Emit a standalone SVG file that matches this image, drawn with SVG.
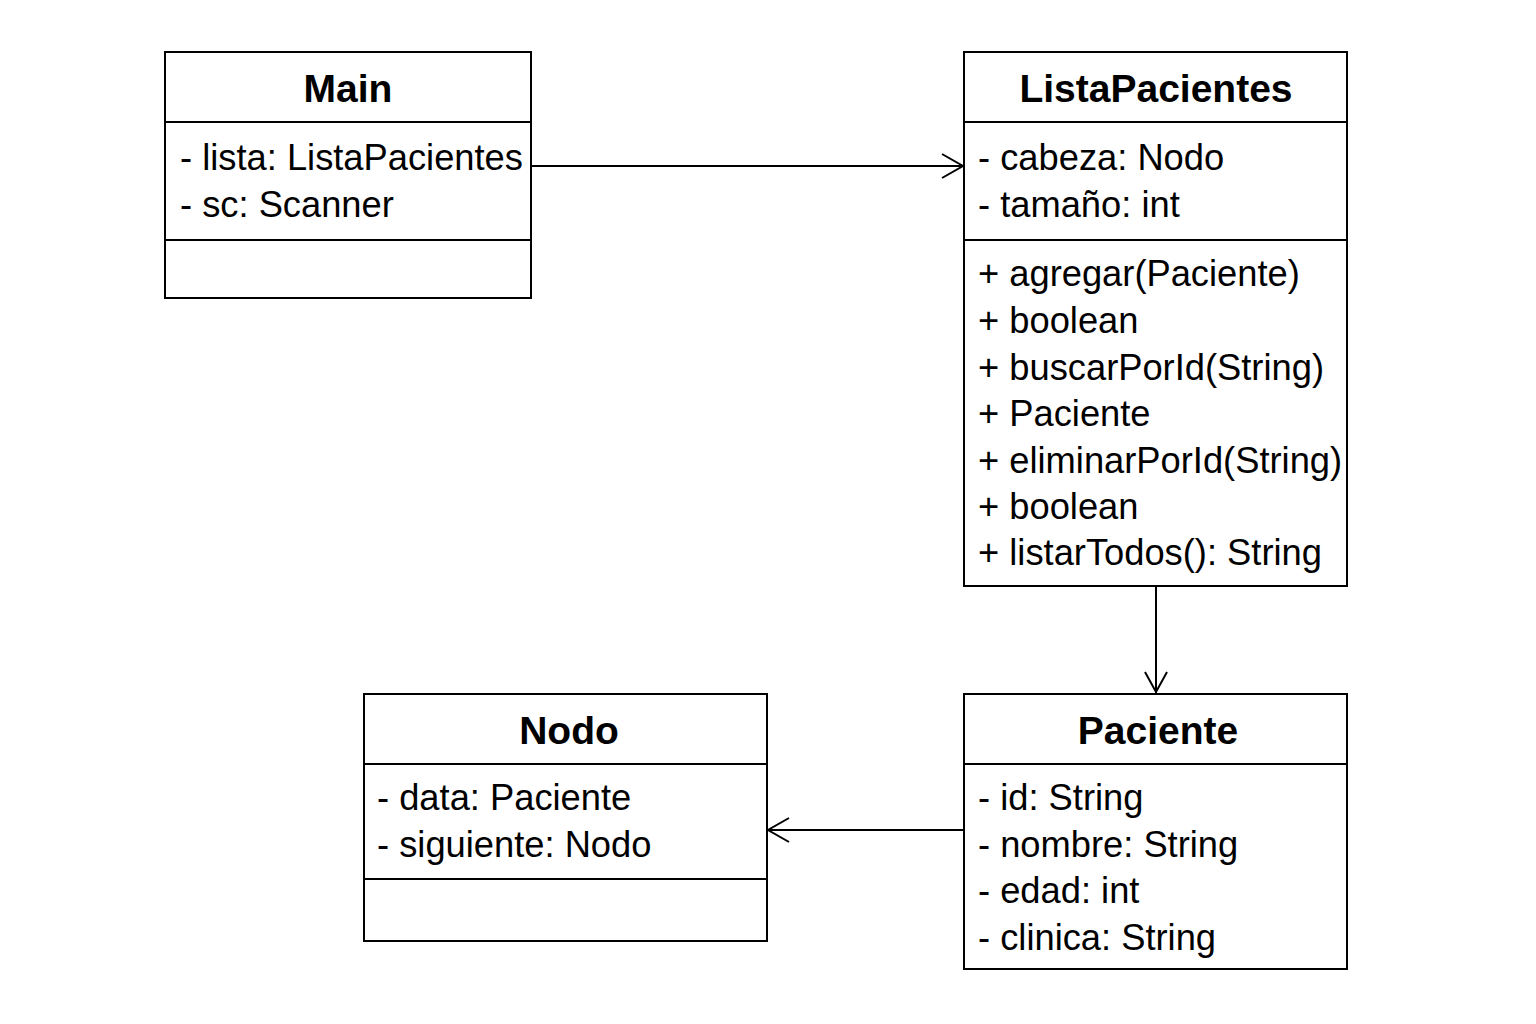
<svg xmlns="http://www.w3.org/2000/svg" width="1536" height="1024" viewBox="0 0 1536 1024">
<style>
.box{fill:#fff;stroke:#000;stroke-width:2}
.div{stroke:#000;stroke-width:2}
.title{font-family:"Liberation Sans",Arial,sans-serif;font-weight:bold;font-size:39px;text-anchor:middle;fill:#000}
.txt{font-family:"Liberation Sans",Arial,sans-serif;font-size:36.3px;fill:#000}
.conn{stroke:#000;stroke-width:2;fill:none}
.head{stroke:#000;stroke-width:2;fill:none}
</style>
<rect width="1536" height="1024" fill="#fff"/>
<g id="Main">
<rect class="box" x="165" y="52" width="366" height="246"/>
<line class="div" x1="165" y1="122" x2="531" y2="122"/>
<line class="div" x1="165" y1="240" x2="531" y2="240"/>
<text class="title" x="348" y="102">Main</text>
<text class="txt" x="180" y="170">- lista: ListaPacientes</text>
<text class="txt" x="180" y="217">- sc: Scanner</text>
</g>
<g id="ListaPacientes">
<rect class="box" x="964" y="52" width="383" height="534"/>
<line class="div" x1="964" y1="122" x2="1347" y2="122"/>
<line class="div" x1="964" y1="240" x2="1347" y2="240"/>
<text class="title" x="1156" y="102">ListaPacientes</text>
<text class="txt" x="978" y="170">- cabeza: Nodo</text>
<text class="txt" x="978" y="217">- tamaño: int</text>
<text class="txt" x="978" y="286">+ agregar(Paciente)</text>
<text class="txt" x="978" y="333">+ boolean</text>
<text class="txt" x="978" y="380">+ buscarPorId(String)</text>
<text class="txt" x="978" y="426">+ Paciente</text>
<text class="txt" x="978" y="473">+ eliminarPorId(String)</text>
<text class="txt" x="978" y="519">+ boolean</text>
<text class="txt" x="978" y="565">+ listarTodos(): String</text>
</g>
<g id="Nodo">
<rect class="box" x="364" y="694" width="403" height="247"/>
<line class="div" x1="364" y1="764" x2="767" y2="764"/>
<line class="div" x1="364" y1="879" x2="767" y2="879"/>
<text class="title" x="569" y="744">Nodo</text>
<text class="txt" x="377" y="810">- data: Paciente</text>
<text class="txt" x="377" y="857">- siguiente: Nodo</text>
</g>
<g id="Paciente">
<rect class="box" x="964" y="694" width="383" height="275"/>
<line class="div" x1="964" y1="764" x2="1347" y2="764"/>
<text class="title" x="1158" y="744">Paciente</text>
<text class="txt" x="978" y="810">- id: String</text>
<text class="txt" x="978" y="857">- nombre: String</text>
<text class="txt" x="978" y="903">- edad: int</text>
<text class="txt" x="978" y="950">- clinica: String</text>
</g>
<g id="connectors">
<line class="conn" x1="531" y1="166" x2="963" y2="166"/>
<polyline class="head" points="942,154 963,166 942,178"/>
<line class="conn" x1="1156" y1="586" x2="1156" y2="693"/>
<polyline class="head" points="1145,672 1156,692 1167,672"/>
<line class="conn" x1="964" y1="830" x2="768" y2="830"/>
<polyline class="head" points="789,818 768,830 789,842"/>
</g>
</svg>
